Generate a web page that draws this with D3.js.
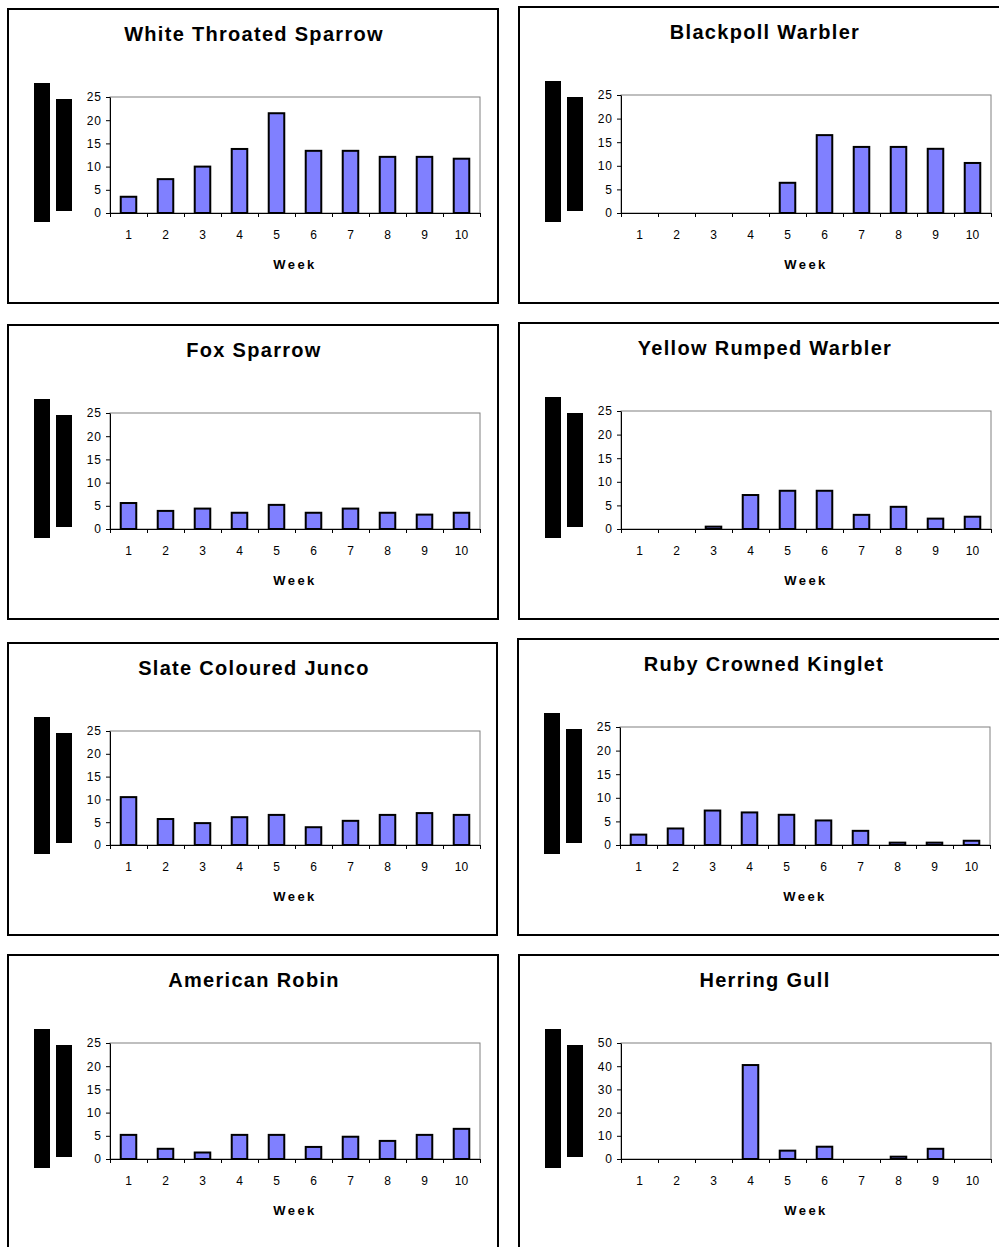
<!DOCTYPE html>
<html>
<head>
<meta charset="utf-8">
<script src="https://cdn.jsdelivr.net/npm/d3@7"></script>
<style>
body { margin: 0; background: #fff; }
text { font-family: "Liberation Sans", Arial, sans-serif; }
</style>
</head>
<body>
<div id="chart"></div>
<script>
const FRAME_WIDTH = 999;
const FRAME_HEIGHT = 1247;
// plot area position inside each panel box
const PLOT = {left: 102, top: 88, width: 370};
const BAR_COLOR = "#8080ff";

// week categories and y tick sets
const weeks = ["1", "2", "3", "4", "5", "6", "7", "8", "9", "10"];
const ticks25 = [0, 5, 10, 15, 20, 25];
const ticks50 = [0, 10, 20, 30, 40, 50];

// birds counted per week
const white_throated_sparrow = [3.5, 7.3, 10, 13.8, 21.5, 13.4, 13.4, 12.1, 12.1, 11.7];
const blackpoll_warbler = [0, 0, 0, 0, 6.4, 16.5, 14, 14, 13.6, 10.6];
const fox_sparrow = [5.6, 3.9, 4.4, 3.5, 5.2, 3.5, 4.4, 3.5, 3.1, 3.5];
const yellow_rumped_warbler = [0, 0, 0.5, 7.2, 8.1, 8.1, 3, 4.7, 2.2, 2.6];
const slate_coloured_junco = [10.5, 5.7, 4.8, 6.1, 6.6, 3.9, 5.3, 6.6, 7, 6.6];
const ruby_crowned_kinglet = [2.2, 3.5, 7.3, 6.9, 6.4, 5.2, 3, 0.5, 0.5, 0.9];
const american_robin = [5.2, 2.2, 1.4, 5.2, 5.2, 2.6, 4.8, 3.9, 5.2, 6.5];
const herring_gull = [0, 0, 0, 40.5, 3.6, 5.3, 0, 1, 4.4, 0];

// box = [x, y, w, h] of the panel frame, plotH = height of the plot area
const panels = [
    {title: "White Throated Sparrow", values: white_throated_sparrow, ticks: ticks25, box: [8, 9, 490, 294], plotH: 116},
    {title: "Blackpoll Warbler", values: blackpoll_warbler, ticks: ticks25, box: [519, 7, 500, 296], plotH: 118},
    {title: "Fox Sparrow", values: fox_sparrow, ticks: ticks25, box: [8, 325, 490, 294], plotH: 116},
    {title: "Yellow Rumped Warbler", values: yellow_rumped_warbler, ticks: ticks25, box: [519, 323, 500, 296], plotH: 118},
    {title: "Slate Coloured Junco", values: slate_coloured_junco, ticks: ticks25, box: [8, 643, 489, 292], plotH: 114},
    {title: "Ruby Crowned Kinglet", values: ruby_crowned_kinglet, ticks: ticks25, box: [518, 639, 500, 296], plotH: 118},
    {title: "American Robin", values: american_robin, ticks: ticks25, box: [8, 955, 490, 310], plotH: 116},
    {title: "Herring Gull", values: herring_gull, ticks: ticks50, box: [519, 955, 500, 310], plotH: 116}
];

const SVG = d3.select("#chart")
    .append("svg")
    .attr("width", FRAME_WIDTH)
    .attr("height", FRAME_HEIGHT);

function drawPanel(p) {
    const [bx, by, bw, bh] = p.box;
    const g = SVG.append("g").attr("transform", "translate(" + bx + "," + by + ")");

    // outer frame
    g.append("rect")
        .attr("width", bw).attr("height", bh)
        .attr("fill", "#fff").attr("stroke", "#000").attr("stroke-width", 2);

    g.append("text")
        .attr("x", 246).attr("y", 32)
        .attr("text-anchor", "middle")
        .style("font-size", "20px").style("font-weight", "bold")
        .style("letter-spacing", "1.3px")
        .text(p.title);

    const H = p.plotH;
    const plotBottom = PLOT.top + H;

    // the two black blocks left of the axis
    g.append("rect")
        .attr("x", 26).attr("y", PLOT.top - 14)
        .attr("width", 16).attr("height", H + 23)
        .attr("fill", "#000");
    g.append("rect")
        .attr("x", 48).attr("y", PLOT.top + 2)
        .attr("width", 16).attr("height", H - 4)
        .attr("fill", "#000");

    const plot = g.append("g").attr("transform", "translate(" + PLOT.left + "," + PLOT.top + ")");

    const x = d3.scaleBand().domain(weeks).range([0, PLOT.width]);
    const xEdge = d3.scaleLinear().domain([0, weeks.length]).range([0, PLOT.width]);
    const y = d3.scaleLinear().domain([0, d3.max(p.ticks)]).range([H, 0]);

    // plot area border (grey top and right)
    plot.append("rect")
        .attr("width", PLOT.width).attr("height", H)
        .attr("fill", "none").attr("stroke", "#808080").attr("stroke-width", 1);

    // bars
    const barW = x.bandwidth() * 0.42;
    plot.append("g")
        .selectAll("rect")
        .data(p.values.map((v, i) => ({week: weeks[i], v: v})).filter(d => d.v > 0))
        .enter()
        .append("rect")
        .attr("x", d => x(d.week) + (x.bandwidth() - barW) / 2)
        .attr("y", d => y(d.v))
        .attr("width", barW)
        .attr("height", d => H - y(d.v))
        .attr("fill", BAR_COLOR)
        .attr("stroke", "#000")
        .attr("stroke-width", 2);

    // y axis
    const yAxis = plot.append("g")
        .call(d3.axisLeft(y).tickValues(p.ticks).tickSize(4).tickSizeOuter(0).tickPadding(4));
    yAxis.selectAll("text").style("font-size", "12px").style("letter-spacing", "1px").attr("fill", "#000");
    yAxis.selectAll("line, path").attr("stroke", "#000");

    // x axis tick marks at category edges
    const xTicks = plot.append("g")
        .attr("transform", "translate(0," + H + ")")
        .call(d3.axisBottom(xEdge).ticks(weeks.length).tickFormat("").tickSize(4).tickSizeOuter(0));
    xTicks.selectAll("line, path").attr("stroke", "#000");

    // week labels centred under each category
    const xLabels = plot.append("g")
        .attr("transform", "translate(0," + H + ")")
        .call(d3.axisBottom(x).tickSize(0).tickPadding(17));
    xLabels.select(".domain").remove();
    xLabels.selectAll("text").style("font-size", "12px").attr("fill", "#000");

    g.append("text")
        .attr("x", PLOT.left + PLOT.width / 2)
        .attr("y", plotBottom + 56)
        .attr("text-anchor", "middle")
        .style("font-size", "13px").style("font-weight", "bold")
        .style("letter-spacing", "2.5px")
        .text("Week");
}

panels.forEach(drawPanel);
</script>
</body>
</html>
